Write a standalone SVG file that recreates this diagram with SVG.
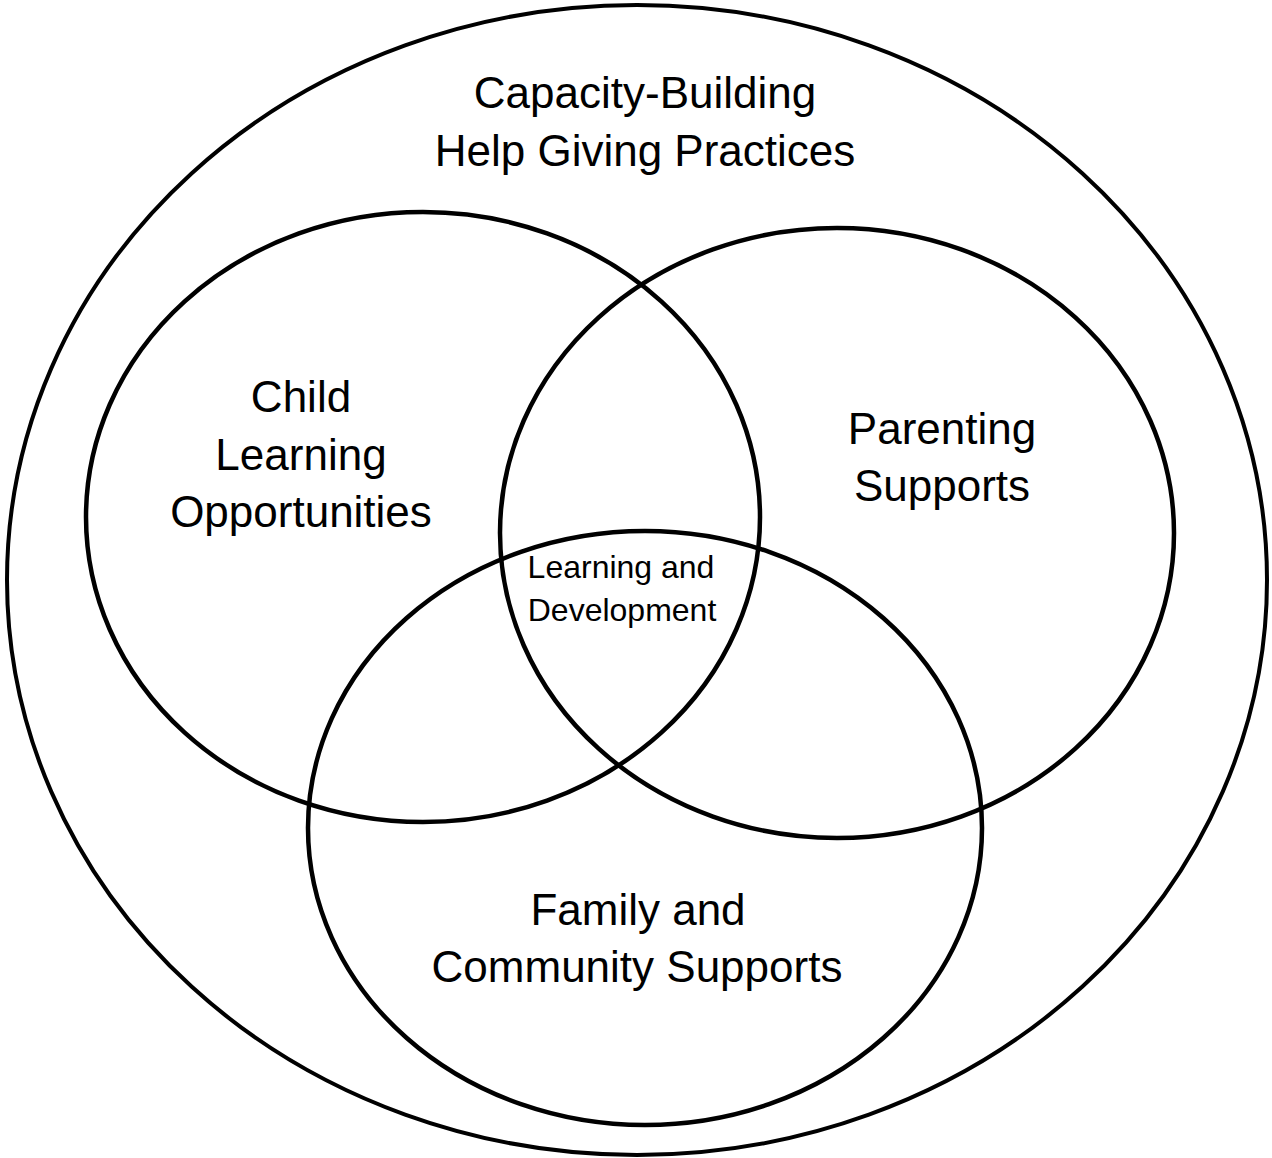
<svg xmlns="http://www.w3.org/2000/svg" width="1272" height="1158" viewBox="0 0 1272 1158">
<style>
.shape{fill:none;stroke:#000;stroke-width:4.5}
.outer{fill:none;stroke:#000;stroke-width:4}
.big{font-family:"Liberation Sans",Arial,sans-serif;font-size:44px;fill:#000;text-anchor:middle}
.small{font-family:"Liberation Sans",Arial,sans-serif;font-size:32px;fill:#000;text-anchor:middle}
</style>
<rect width="1272" height="1158" fill="#fff"/>
<g id="outer">
<ellipse class="outer" cx="637" cy="580" rx="630" ry="575"/>
<text class="big" x="645" y="108">Capacity-Building</text>
<text class="big" x="645" y="166">Help Giving Practices</text>
</g>
<g id="child">
<ellipse class="shape" cx="423" cy="517" rx="337" ry="305"/>
<text class="big" x="301" y="412">Child</text>
<text class="big" x="301" y="470">Learning</text>
<text class="big" x="301" y="527">Opportunities</text>
</g>
<g id="parenting">
<ellipse class="shape" cx="837" cy="533" rx="337" ry="305"/>
<text class="big" x="942" y="444">Parenting</text>
<text class="big" x="942" y="501">Supports</text>
</g>
<g id="family">
<ellipse class="shape" cx="645" cy="828" rx="337" ry="297"/>
<text class="big" x="638" y="925">Family and</text>
<text class="big" x="637" y="982">Community Supports</text>
</g>
<g id="center">
<text class="small" x="621" y="578">Learning and</text>
<text class="small" x="622" y="621">Development</text>
</g>
<g id="connectors"/>
</svg>
